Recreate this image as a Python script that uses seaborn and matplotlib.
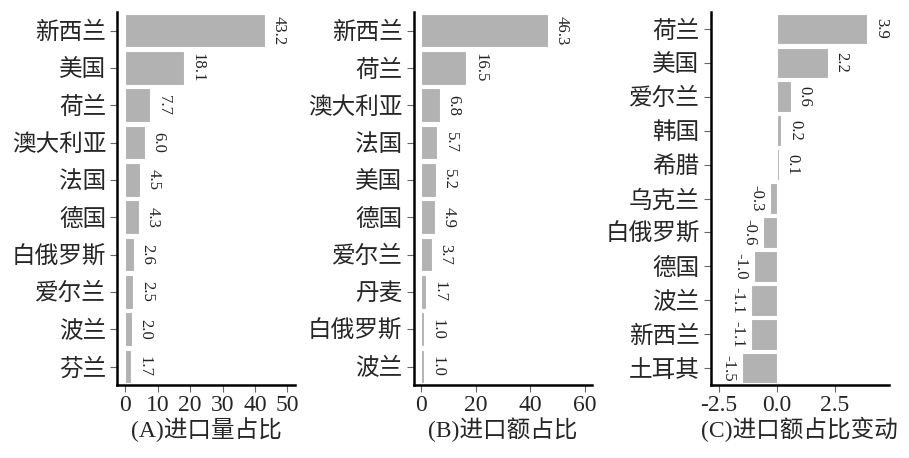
import matplotlib
matplotlib.use('Agg')
import matplotlib.pyplot as plt
import seaborn as sns
import pandas as pd

# (A) import volume share
countries_a = ['新西兰', '美国', '荷兰', '澳大利亚', '法国', '德国', '白俄罗斯', '爱尔兰', '波兰', '芬兰']
values_a = [43.2, 18.1, 7.7, 6.0, 4.5, 4.3, 2.6, 2.5, 2.0, 1.7]

# (B) import value share
countries_b = ['新西兰', '荷兰', '澳大利亚', '法国', '美国', '德国', '爱尔兰', '丹麦', '白俄罗斯', '波兰']
values_b = [46.3, 16.5, 6.8, 5.7, 5.2, 4.9, 3.7, 1.7, 1.0, 1.0]

# (C) change
countries_c = ['荷兰', '美国', '爱尔兰', '韩国', '希腊', '乌克兰', '白俄罗斯', '德国', '波兰', '新西兰', '土耳其']
values_c = [3.9, 2.2, 0.6, 0.2, 0.1, -0.3, -0.6, -1.0, -1.1, -1.1, -1.5]

xlabels = ['(A)进口量占比', '(B)进口额占比', '(C)进口额占比变动']
xticks = [[0, 10, 20, 30, 40, 50], [0, 20, 40, 60], [-2.5, 0.0, 2.5]]
xlims = [(-2.5, 52.5), (-2.9, 62.5), (-2.84, 4.83)]

sns.set_style('ticks')
plt.rcParams['font.family'] = ['Liberation Serif', 'Noto Sans CJK SC']
plt.rcParams['axes.unicode_minus'] = False

fig = plt.figure(figsize=(9.09, 4.58), dpi=100)
lefts = [0.129, 0.455, 0.782]
data = [(countries_a, values_a), (countries_b, values_b), (countries_c, values_c)]

for i, (cats, vals) in enumerate(data):
    ax = fig.add_axes([lefts[i], 0.159, 0.196, 0.815])
    df = pd.DataFrame({'country': cats, 'value': vals})
    sns.barplot(data=df, x='value', y='country', orient='h', color='#b2b2b2',
                saturation=1, width=0.9, edgecolor='white', linewidth=0.8, ax=ax)
    for j, v in enumerate(vals):
        off = 4 if v >= 0 else -4
        ax.annotate(f'{v:.1f}', xy=(v, j), xytext=(off, 0), textcoords='offset points',
                    rotation=270, va='center', ha='left' if v >= 0 else 'right',
                    fontsize=12, color='#222222')
    ax.set_xlim(*xlims[i])
    ax.set_xticks(xticks[i])
    if i == 2:
        ax.set_xticklabels(['-2.5', '0.0', '2.5'])
    ax.set_ylim(len(cats) - 0.5, -0.5)
    ax.set_xlabel(xlabels[i], fontsize=17, labelpad=1)
    ax.set_ylabel('')
    ax.tick_params(axis='y', labelsize=17, length=5, width=0.8, color='#666666', pad=3)
    ax.tick_params(axis='x', labelsize=17, length=5, width=0.8, color='#666666', pad=2)
    sns.despine(ax=ax)
    for s in ['left', 'bottom']:
        ax.spines[s].set_linewidth(1.8)
        ax.spines[s].set_color('black')

fig.savefig('out.png', dpi=100)
